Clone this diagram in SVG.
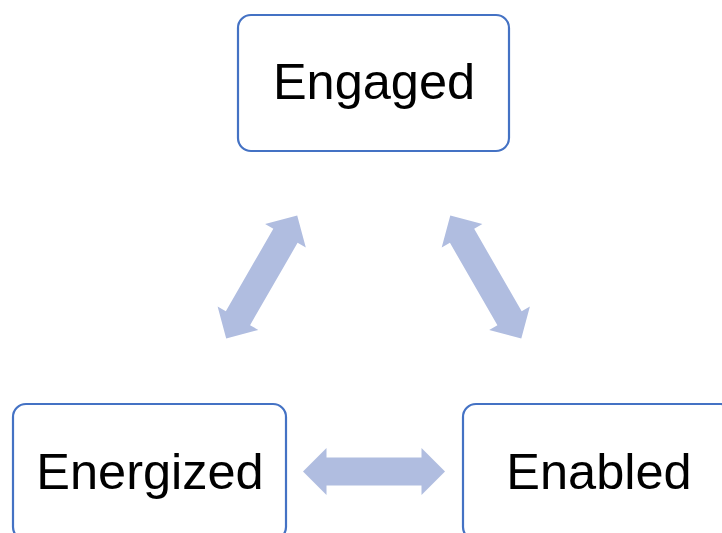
<svg xmlns="http://www.w3.org/2000/svg" width="722" height="533" viewBox="0 0 722 533">
  <defs>
    <style>
      .box { fill: #ffffff; stroke: #4472C4; stroke-width: 2.2; }
      .label { font-family: "Liberation Sans", Arial, sans-serif; font-size: 50.5px; fill: #000000; text-anchor: middle; }
      .link { fill: #B0BDE0; stroke: none; }
    </style>
    <!-- double-headed block arrow, centred on the origin, pointing along x -->
    <path id="dbl-arrow" d="M -71 0 L -47.5 -23.5 L -47.5 -14 L 47.5 -14 L 47.5 -23.5 L 71 0 L 47.5 23.5 L 47.5 14 L -47.5 14 L -47.5 23.5 Z"/>
  </defs>

  <rect width="722" height="533" fill="#ffffff"/>

  <g id="connectors">
    <use href="#dbl-arrow" class="link" transform="translate(261.7 277) rotate(-60)"/>
    <use href="#dbl-arrow" class="link" transform="translate(485.8 277) rotate(60)"/>
    <use href="#dbl-arrow" class="link" transform="translate(374 471.5)"/>
  </g>

  <g id="engaged">
    <rect class="box" x="238" y="15" width="271" height="136" rx="13"/>
    <text class="label" x="374" y="98.5">Engaged</text>
  </g>

  <g id="energized">
    <rect class="box" x="13" y="404" width="273" height="136" rx="13"/>
    <text class="label" x="150" y="488.5">Energized</text>
  </g>

  <g id="enabled">
    <rect class="box" x="463" y="404" width="271" height="136" rx="13"/>
    <text class="label" x="599" y="488.5">Enabled</text>
  </g>
</svg>
